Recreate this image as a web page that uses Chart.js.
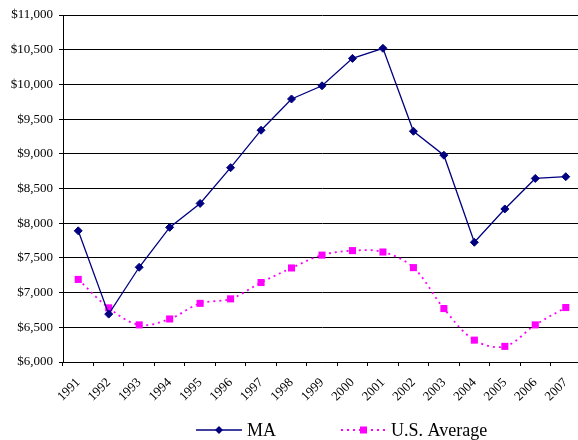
<!DOCTYPE html>
<html>
<head>
<meta charset="utf-8">
<script src="https://cdn.jsdelivr.net/npm/chart.js@4/dist/chart.umd.min.js"></script>
<style>
  html, body { margin: 0; padding: 0; background: #fff; overflow: hidden; }
  #wrap { width: 586px; height: 440px; }
</style>
</head>
<body>
<div id="wrap"><canvas id="c" width="586" height="440"></canvas></div>
<script>
// Per-pupil spending, 1991-2007
const years = ['1991','1992','1993','1994','1995','1996','1997','1998','1999',
               '2000','2001','2002','2003','2004','2005','2006','2007'];
const maValues = [7890, 6690, 7365, 7940, 8285, 8800, 9340, 9790, 9980,
                  10375, 10520, 9325, 8980, 7725, 8205, 8645, 8670];
const usValues = [7190, 6780, 6535, 6620, 6845, 6910, 7145, 7355, 7540,
                  7605, 7585, 7360, 6770, 6315, 6225, 6535, 6785];
const yMin = 6000, yMax = 11000, yStep = 500;

const serif = '"Liberation Serif", "Times New Roman", serif';

// Legend drawn below the axis: a short line sample with its marker, then the label
const lineLegend = {
  id: 'lineLegend',
  afterDraw(chart) {
    const ctx = chart.ctx;
    const items = [
      { ds: chart.data.datasets[0], x0: 196, x1: 242 },
      { ds: chart.data.datasets[1], x0: 341, x1: 386 }
    ];
    const y = 430;
    ctx.save();
    items.forEach(it => {
      const ds = it.ds;
      ctx.strokeStyle = ds.borderColor;
      ctx.lineWidth = ds.borderWidth;
      ctx.setLineDash(ds.borderDash || []);
      ctx.beginPath();
      ctx.moveTo(it.x0, y);
      ctx.lineTo(it.x1, y);
      ctx.stroke();
      ctx.setLineDash([]);
      const cx = (it.x0 + it.x1) / 2;
      ctx.fillStyle = ds.pointBackgroundColor;
      ctx.beginPath();
      if (ds.pointStyle === 'rectRot') {
        const r = 4;
        ctx.moveTo(cx, y - r); ctx.lineTo(cx + r, y); ctx.lineTo(cx, y + r); ctx.lineTo(cx - r, y);
        ctx.closePath();
      } else {
        ctx.rect(cx - 3.5, y - 3.5, 7, 7);
      }
      ctx.fill();
      ctx.fillStyle = '#000';
      ctx.font = '18px ' + serif;
      ctx.textBaseline = 'middle';
      ctx.textAlign = 'left';
      ctx.fillText(ds.label, it.x1 + 5, y + 1);
    });
    ctx.restore();
  }
};

new Chart(document.getElementById('c'), {
  type: 'line',
  data: {
    labels: years,
    datasets: [
      {
        label: 'MA',
        data: maValues,
        borderColor: '#000080',
        backgroundColor: '#000080',
        pointBackgroundColor: '#000080',
        pointBorderColor: '#000080',
        borderWidth: 1.3,
        pointStyle: 'rectRot',
        pointRadius: 4,
        pointBorderWidth: 1,
        tension: 0,
        fill: false
      },
      {
        label: 'U.S. Average',
        data: usValues,
        borderColor: '#FF00FF',
        backgroundColor: '#FF00FF',
        pointBackgroundColor: '#FF00FF',
        pointBorderColor: '#FF00FF',
        borderWidth: 1.8,
        borderDash: [2, 4],
        pointStyle: 'rect',
        pointRadius: 5,
        pointBorderWidth: 0,
        tension: 0.35,
        fill: false
      }
    ]
  },
  options: {
    responsive: false,
    animation: false,
    layout: { padding: { top: 15, right: 2, left: 0, bottom: 0 } },
    plugins: {
      legend: { display: false },
      tooltip: { enabled: false }
    },
    scales: {
      x: {
        offset: true,
        grid: {
          offset: true,
          drawOnChartArea: false,
          drawTicks: true,
          tickLength: 4,
          color: '#000'
        },
        border: { color: '#000', width: 1 },
        ticks: {
          minRotation: 45,
          maxRotation: 45,
          padding: 9,
          color: '#000',
          font: { family: serif, size: 13 }
        },
        afterFit(scale) { scale.height = 78; }
      },
      y: {
        min: yMin,
        max: yMax,
        grid: {
          color: '#000',
          lineWidth: 1,
          drawTicks: true,
          tickLength: 4
        },
        border: { color: '#000', width: 1 },
        ticks: {
          stepSize: yStep,
          padding: 6,
          color: '#000',
          font: { family: serif, size: 13 },
          callback: v => '$' + Number(v).toLocaleString('en-US')
        },
        afterFit(scale) { scale.width = 63; }
      }
    }
  },
  plugins: [lineLegend]
});
</script>
</body>
</html>
